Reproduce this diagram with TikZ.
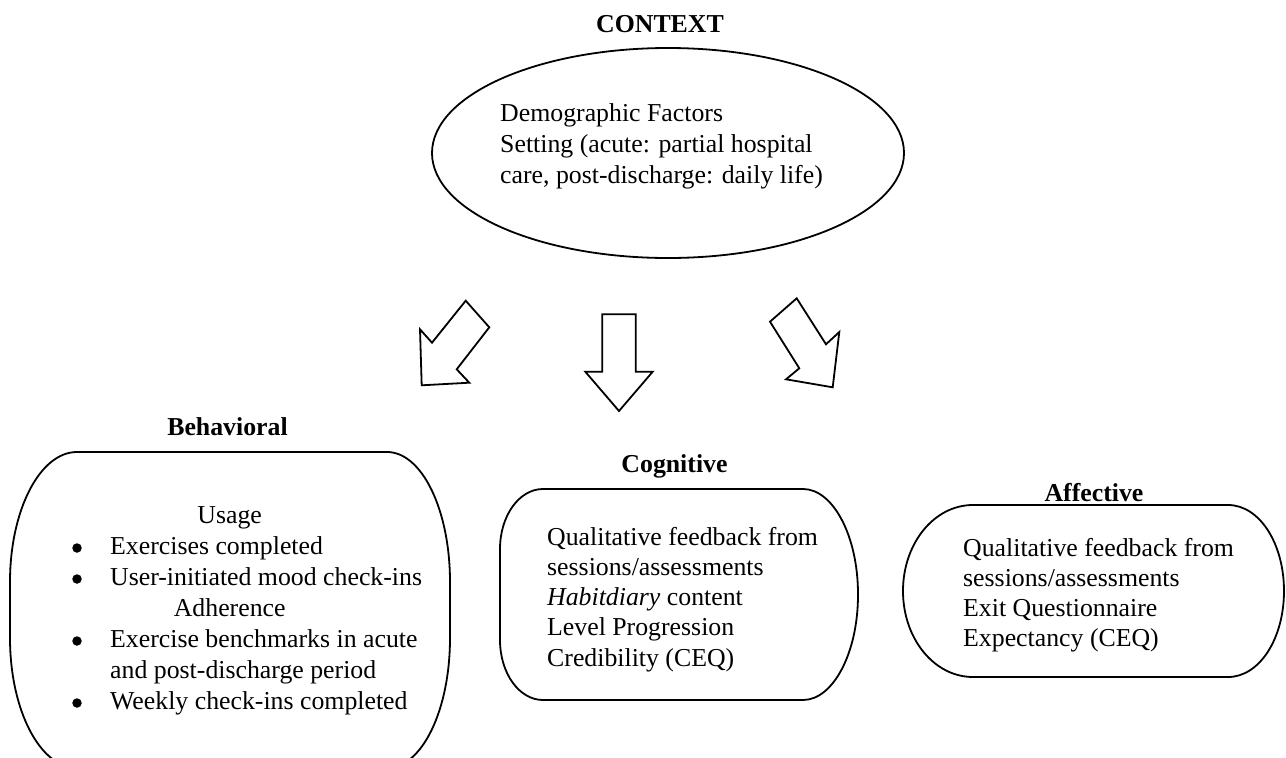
\documentclass[tikz,border=0pt]{standalone}
\usepackage{fontspec}
\setmainfont{Liberation Serif}
\usetikzlibrary{shapes.geometric}
\newcommand\bulitem{\hspace*{50pt}}
\begin{document}
\begin{tikzpicture}[x=1pt,y=-1pt,
  outline/.style={draw=black, line width=1.8pt, line join=miter},
  dotmark/.style={circle, fill=black, minimum size=9.5pt, inner sep=0pt},
  body/.style={inner sep=0pt, anchor=base west, font=\fontsize{25.8}{31}\selectfont},
  bodyb/.style={inner sep=0pt, anchor=base west, font=\fontsize{25.8}{30.3}\selectfont},
  head/.style={inner sep=0pt, anchor=base, font=\fontsize{25.8}{31}\selectfont\bfseries}]
\useasboundingbox (0,0) rectangle (1286,758);

% CONTEXT
\node[head] (ctxhead) at (660,32) {CONTEXT};
\node[outline, ellipse, minimum width=472pt, minimum height=210pt, inner sep=0pt] (ctx) at (668,153) {};
\node[body] (ctxtext) at (500,121) {\parbox[t]{380pt}{\raggedright Demographic Factors\\Setting (acute: partial hospital\\care, post-discharge: daily life)}};

% block arrows
\draw[outline] (465.7,300.7) -- (489.3,327.3) -- (456.7,369.3) -- (469.3,382.7) -- (421.7,385.3) -- (420,329.3) -- (432,342.7) -- cycle;
\draw[outline] (602.3,314.3) -- (635.7,314.3) -- (635.7,371.7) -- (652.7,371.7) -- (619,411) -- (585.3,371.7) -- (602.3,371.7) -- cycle;
\draw[outline] (796.7,298.3) -- (826,344.3) -- (839.3,332) -- (832.7,387.3) -- (786,379.3) -- (799.3,368.3) -- (770,321.7) -- cycle;

% Behavioral
\node[head] (behhead) at (227.5,435) {Behavioral};
\begin{scope}
\clip (0,0) rectangle (1286,758);
\draw[outline] (77,452) -- (387,452) .. controls (422,452) and (450,510) .. (450,582) -- (450,638) .. controls (450,710) and (422,768) .. (387,768) -- (77,768) .. controls (40,768) and (10,710) .. (10,638) -- (10,582) .. controls (10,510) and (40,452) .. (77,452) -- cycle;
\end{scope}
\node[body] (behtext) at (60,523) {\parbox[t]{385pt}{\raggedright
\makebox[339pt]{Usage}\\
\bulitem Exercises completed\\
\bulitem User-initiated mood check-ins\\
\makebox[339pt]{Adherence}\\
\bulitem Exercise benchmarks in acute\\
\hspace*{50pt}and post-discharge period\\
\bulitem Weekly check-ins completed}};
\node[dotmark] (b1) at (77,548) {};
\node[dotmark] (b2) at (77,579) {};
\node[dotmark] (b3) at (77,641) {};
\node[dotmark] (b4) at (77,703) {};

% Cognitive
\node[head] (coghead) at (674.5,472) {Cognitive};
\draw[outline] (543,489) -- (803,489) .. controls (833,489) and (858,536) .. (858,594) -- (858,595) .. controls (858,653) and (833,700) .. (803,700) -- (543,700) .. controls (519,700) and (500,673) .. (500,640) -- (500,549) .. controls (500,516) and (519,489) .. (543,489) -- cycle;
\node[bodyb] (cogtext) at (547,545) {\parbox[t]{305pt}{\raggedright Qualitative feedback from\\sessions/assessments\\\textit{Habitdiary} content\\Level Progression\\Credibility (CEQ)}};

% Affective
\node[head] (affhead) at (1094,501) {Affective};
\draw[outline] (973,505) -- (1228,505) .. controls (1259.5,505) and (1284,543.5) .. (1284,591) .. controls (1284,638.5) and (1259.5,677) .. (1228,677) -- (973,677) .. controls (934,677) and (903,638.5) .. (903,591) .. controls (903,543.5) and (934,505) .. (973,505) -- cycle;
\node[bodyb] (afftext) at (963,556) {\parbox[t]{305pt}{\raggedright Qualitative feedback from\\sessions/assessments\\Exit Questionnaire\\Expectancy (CEQ)}};
\end{tikzpicture}
\end{document}
